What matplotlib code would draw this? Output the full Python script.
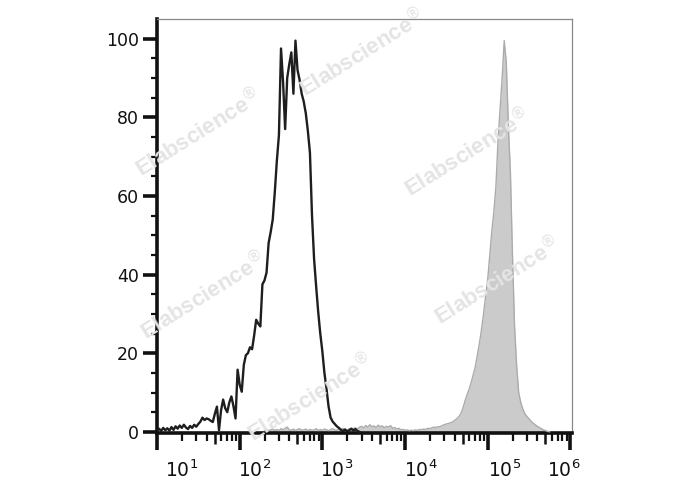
import numpy as np
import matplotlib.pyplot as plt
from matplotlib.ticker import NullFormatter

# histogram bins are on a log10 channel grid
step = 0.025
black_start = 1.0
gray_start = 2.3

# isotype / unstained (black outline), % of max
black_counts = [
    0.3, 0.8, 0.2, 1.0, 0.4, 0.9, 0.3, 1.2, 0.5, 1.4,
    0.8, 1.6, 1.0, 1.8, 1.1, 0.7, 1.5, 1.0, 1.8, 1.3,
    2.0, 2.6, 3.6, 3.0, 3.4, 3.2, 2.8, 2.5, 4.6, 6.4,
    0.4, 5.5, 8.2, 6.0, 5.0, 7.5, 9.0, 6.5, 3.4, 15.8,
    12.0, 10.2, 17.0, 19.5, 20.0, 21.5, 21.0, 24.5, 28.5, 27.5,
    26.8, 37.5, 38.5, 40.5, 48.0, 50.8, 54.0, 61.0, 69.0, 75.5,
    97.5, 89.0, 77.0, 90.0, 93.5, 96.5, 86.0, 99.5, 92.0, 89.5,
    86.0, 84.0, 81.0, 76.5, 71.0, 55.0, 44.0, 37.0, 30.5, 25.0,
    20.5, 15.0, 11.0, 6.5, 3.6, 2.6, 2.0, 1.4, 1.0, 0.5,
    0.2, 0.6, 0.1, 0.4, 0.8, 0.3, 0.7, 0.2, 0.0,
]

# stained sample (gray filled), % of max
gray_counts = [
    0.4, 0.6, 0.3, 0.5, 0.7, 0.4, 0.6, 0.3, 0.8, 0.5,
    0.9, 1.2, 0.5, 0.4, 0.7, 0.3, 0.6, 0.8, 0.4, 0.5,
    0.7, 0.3, 0.6, 0.4, 0.5, 0.8, 0.3, 0.6, 0.4, 0.7,
    0.5, 0.3, 0.6, 0.8, 0.5, 0.4, 0.7, 0.6, 0.9, 0.5,
    0.4, 0.8, 0.6, 0.9, 1.0, 0.7, 1.2, 1.4, 1.0, 1.6,
    1.2, 1.8, 1.3, 1.5, 1.1, 1.7, 1.3, 1.5, 1.0, 1.4,
    1.2, 1.6, 0.9, 1.1, 0.7, 0.9, 0.5, 0.6, 0.4, 0.5,
    0.3, 0.4, 0.3, 0.5, 0.4, 0.6, 0.5, 0.7, 0.6, 0.9,
    0.8, 1.0, 1.2, 1.1, 1.3, 1.3, 1.6, 1.8, 2.0, 2.1,
    2.3, 2.5, 2.9, 3.3, 3.8, 4.6, 6.0, 7.8, 9.4, 10.8,
    12.5, 14.5, 16.5, 19.5, 22.5, 26.0, 30.0, 34.5, 38.7, 45.0,
    51.0, 56.0, 62.5, 74.0, 82.0, 90.0, 99.5, 94.0, 78.0, 66.0,
    45.0, 27.0, 17.0, 10.0, 7.5, 5.8, 4.6, 3.9, 3.3, 2.7,
    2.2, 1.8, 1.4, 1.1, 0.8, 0.5, 0.3, 0.1, 0.0,
]

x_black = 10 ** (black_start + step * np.arange(len(black_counts)))
x_gray = 10 ** (gray_start + step * np.arange(len(gray_counts)))

ytick_vals = [0, 20, 40, 60, 80, 100]
decade_exps = [1, 2, 3, 4, 5, 6]
label_dx = [8, -2, -2, -1, 0, -23]   # pixel nudges of the decade labels

#####

fig = plt.figure(figsize=(6.88, 4.90), dpi=100)
ax = fig.add_axes([157/688, 57/490, (572-157)/688, (471-57)/490])

ax.fill_between(x_gray, gray_counts, 0, color='#cbcbcb', lw=0, zorder=2)
ax.plot(x_gray, gray_counts, color='#ababab', lw=1.0, zorder=3)
ax.plot(x_black, black_counts, color='#1e1e1e', lw=1.7, zorder=4)

ax.set_xscale('log')
ax.set_xlim(10, 10**6.02)
ax.set_ylim(-0.3, 105)

decades = [10.0**k for k in decade_exps]
fives = [5*10.0**k for k in range(1, 6)]
others = [m*10.0**k for k in range(1, 6) for m in (2, 3, 4, 6, 7, 8, 9)]
ax.set_xticks(decades + fives)
ax.set_xticks(others, minor=True)
ax.xaxis.set_major_formatter(NullFormatter())
ax.xaxis.set_minor_formatter(NullFormatter())
ax.tick_params(axis='x', which='major', length=12, width=2.6, direction='out', color='#111111')
ax.tick_params(axis='x', which='minor', length=6, width=1.6, direction='out', color='#111111')
for t in ax.xaxis.get_major_ticks()[len(decades):]:
    t.tick1line.set_markersize(8)
    t.tick1line.set_markeredgewidth(1.8)

ax.set_yticks(ytick_vals)
ax.set_yticks(np.arange(0, 105, 5), minor=True)
ax.set_yticklabels([str(v) for v in ytick_vals], fontsize=12.5, color='#111111')
ax.tick_params(axis='y', which='major', length=10, width=2.6, pad=3, color='#111111')
ax.tick_params(axis='y', which='minor', length=4, width=1.6, color='#111111')

for k, dx in zip(decade_exps, label_dx):
    ax.annotate('$10^{%d}$' % k, xy=(10.0**k, 0), xycoords=('data', 'axes fraction'),
                xytext=(dx, -44), textcoords='offset pixels',
                ha='left', va='baseline', fontsize=13.5, color='#111111')

for s in ['left', 'bottom']:
    ax.spines[s].set_linewidth(2.6)
    ax.spines[s].set_color('#111111')
for s in ['top', 'right']:
    ax.spines[s].set_linewidth(0.9)
    ax.spines[s].set_color('#888888')

# watermarks
marks = [(198, 132), (362, 52), (467, 152), (203, 295), (497, 280), (310, 397)]
for mx, my in marks:
    fig.text(mx/688, 1 - my/490, 'Elabscience$^{®}$', fontsize=16, fontweight='bold',
             family='Liberation Sans', color='#e4e4e4', rotation=32,
             ha='center', va='center', rotation_mode='anchor', zorder=10)

fig.savefig('out.png', dpi=100)
